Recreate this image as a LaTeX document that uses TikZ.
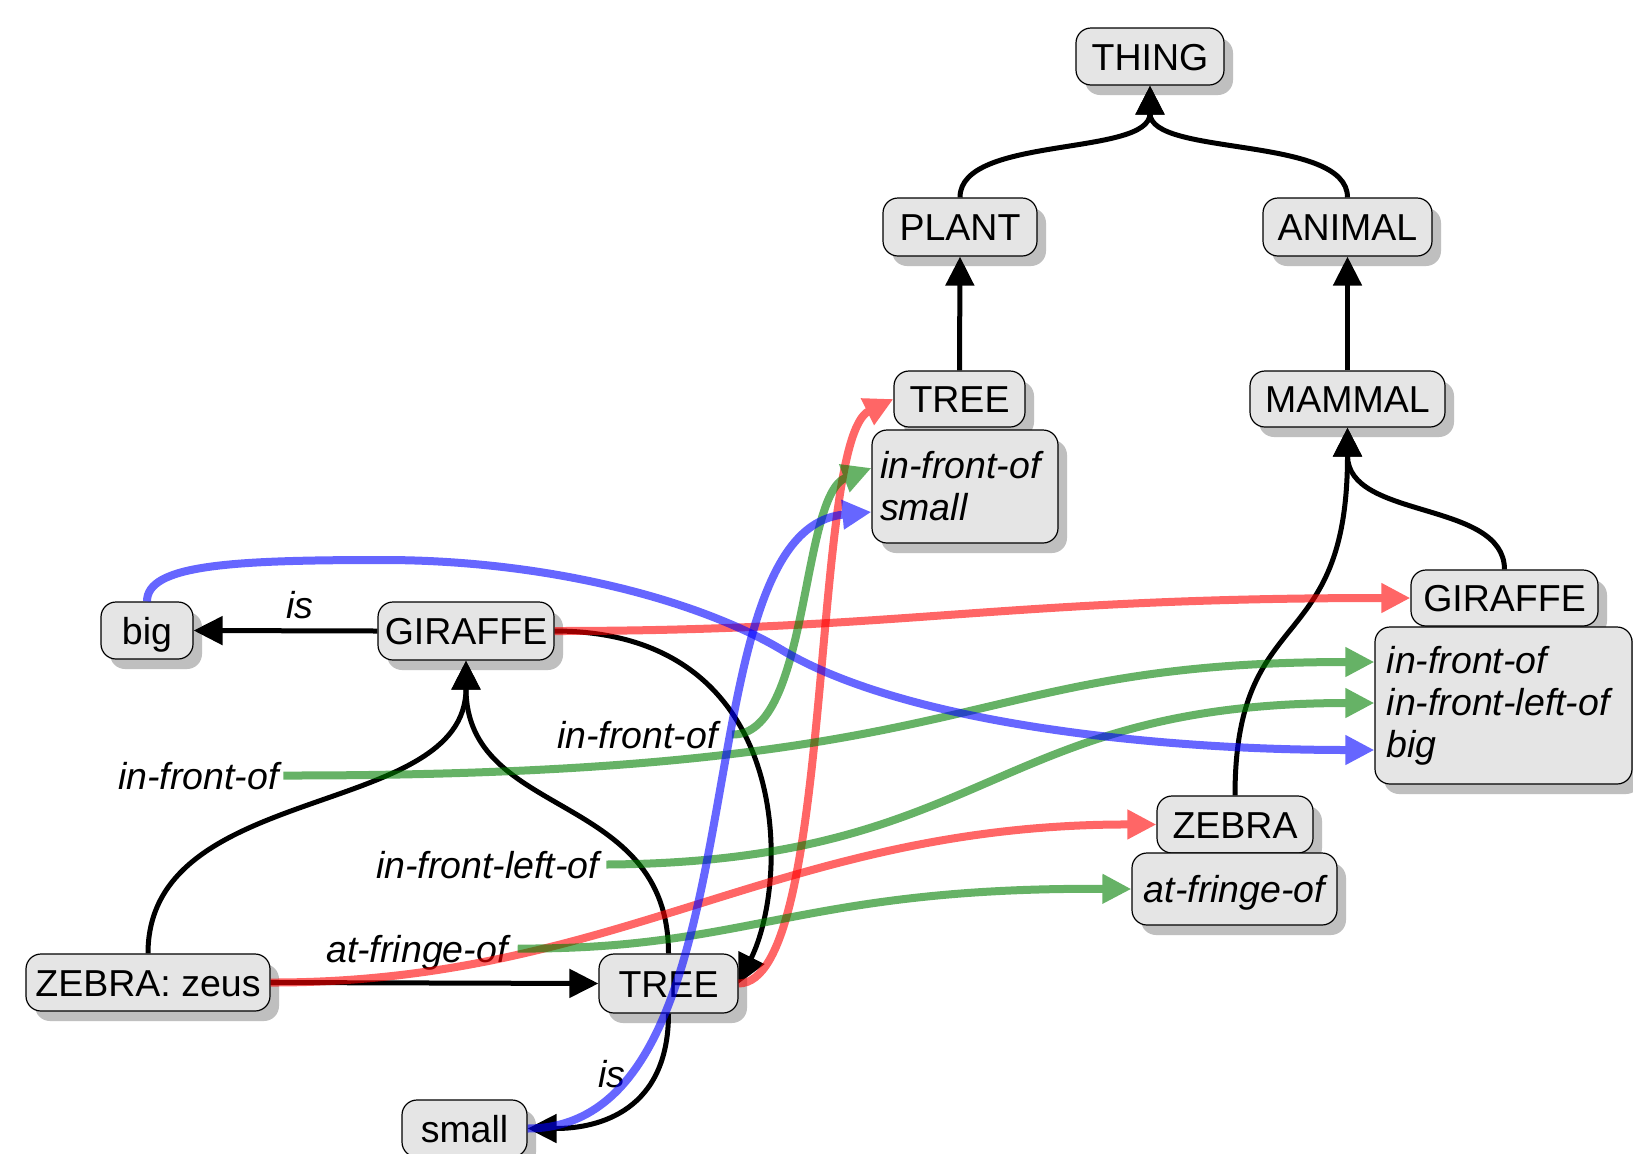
\documentclass[tikz,border=0pt]{standalone}
\usepackage{fontspec}
\setmainfont{Liberation Sans}
\usetikzlibrary{arrows.meta,shadows,calc}
\definecolor{gcol}{RGB}{0,128,0}
\begin{document}
\begin{tikzpicture}[x=1bp,y=-1bp,
  box/.style={draw=black, line width=1.2bp, fill=black!10, rounded corners=15bp,
    drop shadow={shadow xshift=9bp,shadow yshift=-10bp,fill=black!25,opacity=1},
    font=\fontsize{37.5bp}{42bp}\selectfont, inner sep=0pt},
  sbox/.style={box, text height=27bp, text depth=0bp},
  abox/.style={box, align=left, font=\fontsize{37.5bp}{42bp}\selectfont\itshape},
  lbl/.style={inner sep=0pt, font=\fontsize{37.5bp}{42bp}\selectfont\itshape, text height=27bp, text depth=0bp},
  tipA/.style={-{Triangle[length=29bp,width=28bp]}},
  blk/.style={draw=black, line width=5bp, tipA},
  col/.style={line width=8bp, tipA},
  tg/.style={transparency group, opacity=0.6}
]
\fill[white] (0,0) rectangle (1633,1153);
\useasboundingbox (0,0) rectangle (1633,1153);

% nodes
\node[sbox, minimum width=148bp, minimum height=57bp] (thing) at (1150,56.5) {THING};
\node[sbox, minimum width=154bp, minimum height=58bp] (planT) at (960,227) {PLANT};
\node[sbox, minimum width=169bp, minimum height=58bp] (animal) at (1347.5,227) {ANIMAL};
\node[sbox, minimum width=131bp, minimum height=56bp] (treeT) at (959.5,399) {TREE};
\node[abox, text width=170bp, inner xsep=8bp, minimum height=113bp] (treeAttr) at (965,486.5) {in-front-of\\small};
\node[sbox, minimum width=195bp, minimum height=56bp] (mammal) at (1347.5,399) {MAMMAL};
\node[sbox, minimum width=187bp, minimum height=56bp] (giraR) at (1504.5,598) {GIRAFFE};
\node[abox, text width=233.6bp, inner xsep=11.7bp, minimum height=157bp] (giraAttr) at (1503.5,705.5) {in-front-of\\in-front-left-of\\big};
\node[sbox, minimum width=156bp, minimum height=57bp] (zebraR) at (1235,824.5) {ZEBRA};
\node[sbox, minimum width=205bp, minimum height=72bp, font=\fontsize{37.5bp}{42bp}\selectfont\itshape] (fringe) at (1234.5,889) {at-fringe-of};
\node[sbox, minimum width=92bp, minimum height=57bp] (big) at (147,630.5) {big};
\node[sbox, minimum width=176bp, minimum height=58bp] (giraL) at (466,631) {GIRAFFE};
\node[sbox, minimum width=244bp, minimum height=57bp] (zeus) at (148,982.5) {ZEBRA: zeus};
\node[sbox, minimum width=139bp, minimum height=59bp] (treeB) at (668.5,983.5) {TREE};
\node[sbox, minimum width=125bp, minimum height=57bp] (small) at (464.5,1128.5) {small};

% labels
\node[lbl, anchor=base] (isA) at (300,618) {is};
\node[lbl, anchor=base] (isB) at (612,1087) {is};
\node[lbl, anchor=base west] (lblA) at (118,789) {in-front-of};
\node[lbl, anchor=base west] (lblB) at (376,878) {in-front-left-of};
\node[lbl, anchor=base west] (lblC) at (326,962) {at-fringe-of};
\node[lbl, anchor=base west] (lblD) at (557,748) {in-front-of};

\coordinate (bA) at (383,560);
\coordinate (bB) at (782,650);

% black edges
\draw[blk] (planT.north) .. controls (960,135) and (1150,157) .. (thing.south);
\draw[blk] (animal.north) .. controls (1347.5,135) and (1150,157) .. (thing.south);
\draw[blk] (treeT.north) -- (planT.south);
\draw[blk] (mammal.north) -- (animal.south);
\draw[blk] (giraR.north) .. controls (1504,500) and (1347.5,520) .. (mammal.south);
\draw[blk] (zebraR.north) .. controls (1235,600) and (1347.5,660) .. (mammal.south);
\draw[blk] (giraL.west) -- (big.east);
\draw[blk] (zeus.north) .. controls (148,780) and (466,820) .. (giraL.south);
\draw[blk] (treeB.north) .. controls (668.5,790) and (466,820) .. (giraL.south);
\draw[blk] (giraL.east) .. controls (795,631) and (790,880) .. (treeB.east);
\draw[blk] (zeus.east) -- (treeB.west);
\draw[blk] (treeB.south) .. controls (668.5,1110) and (600,1128.5) .. (small.east);

% coloured edges
\begin{scope}[tg]\draw[col, red] (giraL.east) .. controls (900,631) and (1000,598) .. (giraR.west);\end{scope}
\begin{scope}[tg]\draw[col, red] (zeus.east) .. controls (620,983) and (780,824) .. (zebraR.west);\end{scope}
\begin{scope}[tg]\draw[col, red] (treeB.east) .. controls (835,983) and (810,440) .. (treeT.west);\end{scope}
\begin{scope}[tg]\draw[col, gcol] ([xshift=4.5bp]lblA.east) .. controls (1000,776) and (950,662) .. ($(giraAttr.west)+(0,-43.5)$);\end{scope}
\begin{scope}[tg]\draw[col, gcol] ([xshift=7bp]lblB.east) .. controls (990,862) and (990,703) .. ($(giraAttr.west)+(0,-2.5)$);\end{scope}
\begin{scope}[tg]\draw[col, gcol] ([xshift=10bp]lblC.east) .. controls (750,950) and (800,887) .. (fringe.west);\end{scope}
\begin{scope}[tg]\draw[col, gcol] ([xshift=14bp]lblD.east) .. controls (810,737) and (800,495) .. ($(treeAttr.west)+(0,-18.5)$);\end{scope}
\begin{scope}[tg]\draw[col, blue] (big.north) .. controls (147,565) and (230,560) .. (bA) .. controls (550,560) and (700,601) .. (bB) .. controls (902,722) and (1150,750) .. ($(giraAttr.west)+(0,44.5)$);\end{scope}
\begin{scope}[tg]\draw[col, blue] (small.east) .. controls (770,1128) and (675,530) .. ($(treeAttr.west)+(0,25.5)$);\end{scope}
\end{tikzpicture}
\end{document}
